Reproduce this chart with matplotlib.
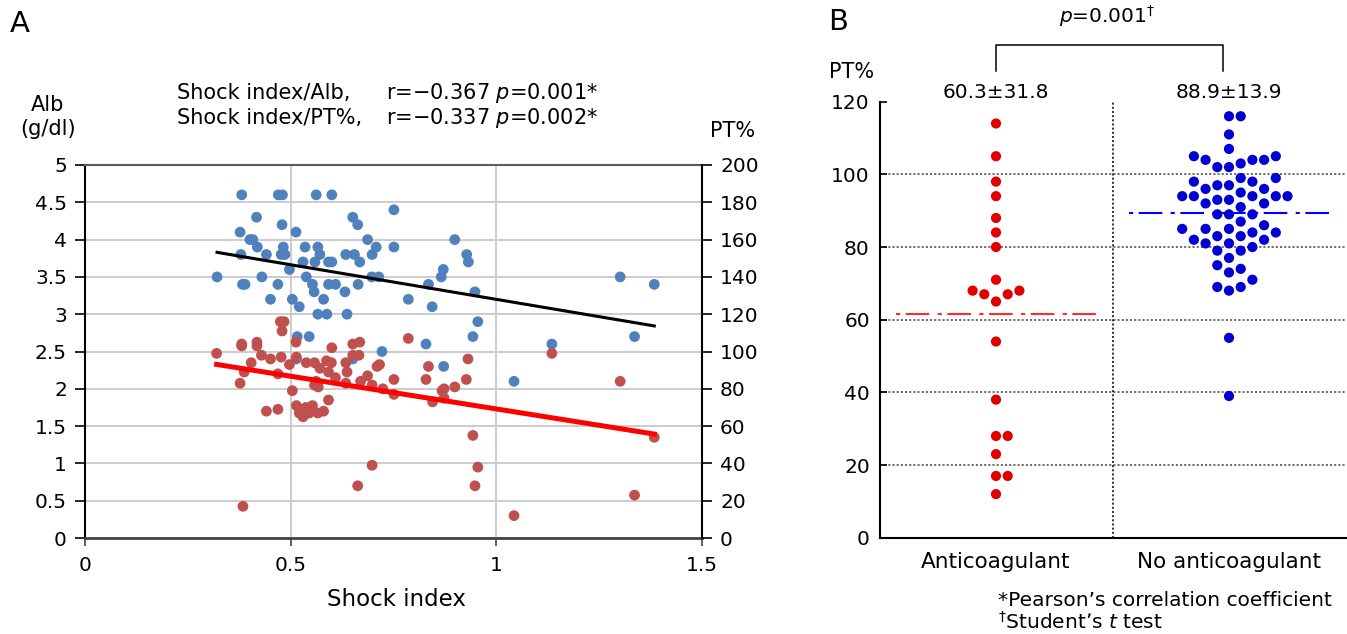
import numpy as np
import matplotlib.pyplot as plt
from matplotlib.ticker import MultipleLocator, FuncFormatter

plt.rcParams['font.family'] = ['DejaVu Sans']
plt.rcParams['mathtext.fontset'] = 'dejavusans'
plt.rcParams['lines.scale_dashes'] = False

# ---- Panel A: shock index vs Alb (blue) and PT% (red) ----
shock_alb = [0.381, 0.470, 0.480, 0.562, 0.600, 0.751, 0.417, 0.479, 0.651, 0.663,
             0.377, 0.513, 0.401, 0.408, 0.687, 0.419, 0.482, 0.535, 0.566, 0.708,
             0.751, 0.379, 0.441, 0.477, 0.486, 0.571, 0.634, 0.655, 0.698, 0.530,
             0.559, 0.592, 0.600, 0.668, 0.321, 0.430, 0.497, 0.538, 0.697, 0.714,
             0.383, 0.389, 0.469, 0.553, 0.592, 0.609, 0.664, 0.557, 0.632, 0.451,
             0.504, 0.580, 0.521, 0.566, 0.588, 0.637, 0.516, 0.545, 0.722, 0.651,
             0.514, 0.899, 0.928, 0.932, 0.871, 0.866, 0.835, 0.786, 0.844, 0.948,
             0.955, 0.943, 0.829, 1.135, 1.301, 1.384, 1.336, 0.872, 1.043]
alb = [4.6, 4.6, 4.6, 4.6, 4.6, 4.4, 4.3, 4.2, 4.3, 4.2,
       4.1, 4.1, 4.0, 4.0, 4.0, 3.9, 3.9, 3.9, 3.9, 3.9,
       3.9, 3.8, 3.8, 3.8, 3.8, 3.8, 3.8, 3.8, 3.8, 3.7,
       3.7, 3.7, 3.7, 3.7, 3.5, 3.5, 3.6, 3.5, 3.5, 3.5,
       3.4, 3.4, 3.4, 3.4, 3.4, 3.4, 3.4, 3.3, 3.3, 3.2,
       3.2, 3.2, 3.1, 3.0, 3.0, 3.0, 2.7, 2.7, 2.5, 2.4,
       2.4, 4.0, 3.8, 3.7, 3.6, 3.5, 3.4, 3.2, 3.1, 3.3,
       2.9, 2.7, 2.6, 2.6, 3.5, 3.4, 2.7, 2.3, 2.1]

shock_pt = [0.475, 0.484, 0.479, 0.381, 0.381, 0.418, 0.418, 0.513, 0.600, 0.651,
            0.668, 0.320, 0.429, 0.451, 0.477, 0.497, 0.514, 0.404, 0.538, 0.558,
            0.587, 0.599, 0.634, 0.651, 0.666, 0.710, 0.716, 0.751, 0.751, 0.387,
            0.469, 0.571, 0.592, 0.609, 0.637, 0.687, 0.670, 0.698, 0.724, 0.377,
            0.562, 0.558, 0.567, 0.634, 0.504, 0.592, 0.514, 0.441, 0.469, 0.525,
            0.537, 0.553, 0.521, 0.530, 0.545, 0.566, 0.580, 0.698, 0.663, 0.384,
            0.786, 0.835, 0.829, 0.845, 0.868, 0.873, 0.873, 0.899, 0.927, 0.931,
            0.943, 0.955, 0.948, 1.043, 1.135, 1.301, 1.384, 1.336]
pt = [116, 116, 111, 104, 103, 105, 103, 105, 102, 104,
      105, 99, 98, 96, 97, 93, 97, 94, 94, 94,
      95, 94, 94, 98, 98, 92, 93, 85, 77, 89,
      88, 91, 89, 86, 89, 87, 84, 82, 80, 83,
      84, 82, 81, 83, 79, 74, 71, 68, 69, 69,
      70, 71, 67, 65, 67, 67, 68, 39, 28, 17,
      107, 92, 85, 73, 79, 80, 75, 81, 85, 96,
      55, 38, 28, 12, 99, 84, 54, 23]

# regression lines (slope, intercept)
alb_fit = (-0.928, 4.127)
pt_fit = (-35.1, 104.3)

# ---- Panel B: PT% by anticoagulant use ----
groups = ['Anticoagulant', 'No anticoagulant']
pt_anticoag = [114, 105, 98, 94, 88, 84, 80, 71, 68, 68, 67, 67, 65, 54, 38,
               28, 28, 23, 17, 17, 12]
pt_no_anticoag = [116, 116, 111, 107, 105, 105, 104, 104, 104, 103, 102, 102,
                  99, 99, 98, 98, 97, 97, 96, 96, 95, 94, 94, 94, 94, 94, 93, 93,
                  92, 92, 91, 89, 89, 89, 87, 86, 85, 85, 85, 84, 84, 83, 83,
                  82, 82, 81, 81, 80, 79, 79, 77, 75, 74, 73, 71, 69, 69, 68,
                  55, 39]
mean_levels = [61.6, 89.3]
group_labels = ['60.3\u00b131.8', '88.9\u00b113.9']

W, H = 1347, 634
fig = plt.figure(figsize=(W / 100, H / 100), dpi=100)

# ================= Panel A =================
axA = fig.add_axes([85 / W, 96 / H, 617 / W, 373 / H])
axA.set_xlim(0, 1.5)
axA.set_ylim(0, 5)
axA.xaxis.set_major_locator(MultipleLocator(0.5))
axA.yaxis.set_major_locator(MultipleLocator(0.5))
fmt = FuncFormatter(lambda v, p: '{:g}'.format(v))
axA.xaxis.set_major_formatter(fmt)
axA.yaxis.set_major_formatter(fmt)
axA.grid(True, color='#c8c8c8', lw=1.3)
axA.set_axisbelow(True)
axA.tick_params(axis='y', direction='out', length=7, width=1.2, pad=6, labelsize=14.5)
axA.tick_params(axis='x', direction='out', length=6, width=1.2, color='#444444',
                pad=7, labelsize=14.5)
axA.spines['left'].set_color('black')
axA.spines['left'].set_linewidth(1.5)
axA.spines['top'].set_color('#5a5a5a')
axA.spines['top'].set_linewidth(1.5)
axA.spines['bottom'].set_color('#444444')
axA.spines['bottom'].set_linewidth(2)
axA.spines['right'].set_visible(False)

axA.scatter(shock_alb, alb, s=60, color='#4f81bd', edgecolors='none', zorder=3)
xa = np.array([min(shock_alb), max(shock_alb)])
axA.plot(xa, alb_fit[0] * xa + alb_fit[1], color='black', lw=2.2, zorder=4)

axA2 = axA.twinx()
axA2.set_ylim(0, 200)
axA2.yaxis.set_major_locator(MultipleLocator(20))
axA2.tick_params(axis='y', direction='out', length=7, width=1.2, pad=6, labelsize=14.5)
for s in ['left', 'top', 'bottom']:
    axA2.spines[s].set_visible(False)
axA2.spines['right'].set_color('black')
axA2.spines['right'].set_linewidth(1.5)
axA2.scatter(shock_pt, pt, s=60, color='#c0504d', edgecolors='none', zorder=3)
xp = np.array([min(shock_pt), max(shock_pt)])
axA2.plot(xp, pt_fit[0] * xp + pt_fit[1], color='#ff0000', lw=3.6, zorder=4)

fig.text(10 / W, 1 - 24 / H, 'A', fontsize=21, ha='left', va='center')
fig.text(48 / W, 1 - 117 / H, 'Alb\n(g/dl)', fontsize=15, ha='center', va='center',
         linespacing=1.25)
fig.text(733 / W, 1 - 131 / H, 'PT%', fontsize=15, ha='center', va='center')
fig.text(177 / W, 1 - 93 / H, 'Shock index/Alb,', fontsize=15, ha='left', va='center')
fig.text(177 / W, 1 - 118 / H, 'Shock index/PT%,', fontsize=15, ha='left', va='center')
fig.text(386 / W, 1 - 93 / H, 'r=\u22120.367 $p$=0.001*', fontsize=15, ha='left', va='center')
fig.text(386 / W, 1 - 118 / H, 'r=\u22120.337 $p$=0.002*', fontsize=15, ha='left', va='center')
fig.text(396 / W, 1 - 600 / H, 'Shock index', fontsize=16.5, ha='center', va='center')

# ================= Panel B =================
axB = fig.add_axes([879.5 / W, 96.3 / H, 466 / W, 436 / H])
axB.set_xlim(-0.5, 1.5)
axB.set_ylim(0, 120)
axB.set_yticks(np.arange(0, 121, 20))
axB.set_xticks([0, 1])
axB.set_xticklabels(groups, fontsize=15.5)
axB.tick_params(axis='x', length=0, pad=10)
axB.tick_params(axis='y', direction='in', length=5, width=1.2, pad=7, labelsize=14.5)
axB.yaxis.grid(True, linestyle=(0, (1.5, 1.5)), color='#444444', lw=1.1)
axB.get_ygridlines()[-1].set_visible(False)
for s in ['top', 'right']:
    axB.spines[s].set_visible(False)
for s in ['left', 'bottom']:
    axB.spines[s].set_linewidth(1.5)
axB.axvline(0.5, color='black', lw=1.1, linestyle=(0, (1.5, 1.5)))

fig.canvas.draw()
px_per_unit = axB.get_window_extent().height / 120.0
px_per_x = axB.get_window_extent().width / 2.0
step = 11.7 / px_per_x
diam = 13.0


def swarm_x(values, center):
    placed = []
    xs = np.zeros(len(values))
    for i in np.argsort(values):
        v = values[i]
        n = 0
        while True:
            cands = [0] if n == 0 else [n, -n]
            done = False
            for k in cands:
                if all(not (pk == k and abs(pv - v) * px_per_unit < diam) for pk, pv in placed):
                    placed.append((k, v))
                    xs[i] = center + k * step
                    done = True
                    break
            if done:
                break
            n += 1
    return xs


colors_dot = ['#e00000', '#0000d2']
colors_mean = ['#ff2a2a', '#0000ff']
for i, vals in enumerate([pt_anticoag, pt_no_anticoag]):
    axB.scatter(swarm_x(vals, i), vals, s=54, color=colors_dot[i], edgecolors='none',
                zorder=3, clip_on=False)
    axB.plot([i - 0.43, i + 0.43], [mean_levels[i]] * 2, color=colors_mean[i], lw=1.5,
             dashes=(3, 4, 17, 6), zorder=2)
    axB.text(i, 122.6, group_labels[i], fontsize=14.5, ha='center', va='center')

axB.plot([0, 0, 0.975, 0.975], [128.4, 135.6, 135.6, 128.4], color='black', lw=1.1,
         clip_on=False)
axB.text(0.476, 143.5, '$p$=0.001$^{\\dagger}$', fontsize=14.5, ha='center', va='center')

fig.text(828 / W, 1 - 22 / H, 'B', fontsize=21, ha='left', va='center')
fig.text(852 / W, 1 - 72 / H, 'PT%', fontsize=15, ha='center', va='center')
fig.text(998 / W, 1 - 600 / H, '*Pearson\u2019s correlation coefficient', fontsize=14.5,
         ha='left', va='center')
fig.text(998 / W, 1 - 622 / H, '$^{\\dagger}$Student\u2019s $t$ test', fontsize=14.5,
         ha='left', va='center')

fig.savefig('out.png', dpi=100)
